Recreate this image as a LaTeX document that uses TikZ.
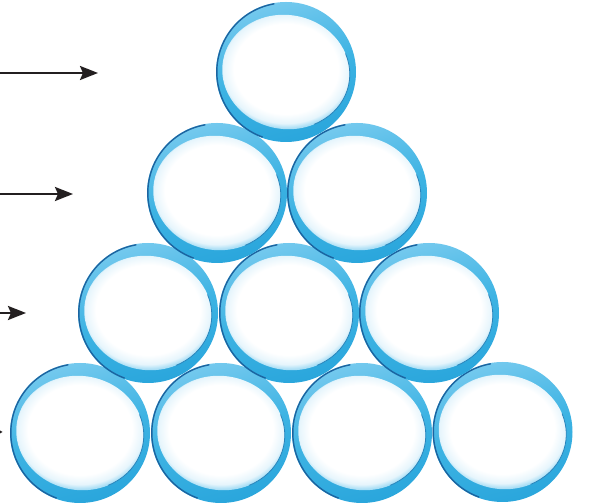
\documentclass[tikz,border=0pt]{standalone}
\usetikzlibrary{arrows.meta}
\definecolor{ringlight}{HTML}{74C9EE}
\definecolor{ringmid}{HTML}{3DB3E3}
\definecolor{ringdeep}{HTML}{2AA6DC}
\definecolor{ringedge}{HTML}{1C64A0}
\definecolor{ringinner}{HTML}{E6F5FC}
\definecolor{ringfade}{HTML}{A9DEF5}
\definecolor{arrowgray}{HTML}{231F20}
\pgfdeclareradialshading{ringin}{\pgfpoint{0bp}{0bp}}{color(0bp)=(white); color(19bp)=(white); color(23bp)=(ringinner); color(25bp)=(ringfade); color(50bp)=(ringfade)}
\tikzset{
  bubblering/.pic={
    \shade[top color=ringlight, bottom color=ringdeep, middle color=ringmid, shading angle=15] (0,0) circle (70pt);
    \shade[shading=ringin, rotate=-10] (0,0) ellipse (64pt and 57pt);
    \draw[ringedge, line width=1.4pt, line cap=round] (100:69.2pt) arc[start angle=100, end angle=250, radius=69.2pt];
    \draw[ringedge!60!ringmid, line width=0.8pt, rotate=-10] (-55:64pt and 57pt) arc[start angle=-55, end angle=30, x radius=64pt, y radius=57pt];
  },
  pointer/.style={draw=arrowgray, line width=2.4pt, -{Stealth[length=18pt,width=14pt,inset=3pt]}}
}
\begin{document}
\begin{tikzpicture}[x=1pt,y=1pt]
\useasboundingbox (0,0) rectangle (590,503);
% circle centres
\coordinate (c1) at (286,431);
\coordinate (c21) at (217,310);
\coordinate (c22) at (357,310);
\coordinate (c31) at (148,190);
\coordinate (c32) at (289,190);
\coordinate (c33) at (429,190);
\coordinate (c41) at (80,70);
\coordinate (c42) at (221,70);
\coordinate (c43) at (362,70);
\coordinate (c44) at (502.5,71);
\foreach \c in {c41,c42,c43,c44,c31,c32,c33,c21,c22,c1}
  \pic at (\c) {bubblering};
% arrows
\coordinate (a1s) at (0,430);   \coordinate (a1e) at (98,430);
\coordinate (a2s) at (0,309);   \coordinate (a2e) at (73,309);
\coordinate (a3s) at (0,190);   \coordinate (a3e) at (26,190);
\draw[pointer] (a1s) -- (a1e);
\draw[pointer] (a2s) -- (a2e);
\draw[pointer] (a3s) -- (a3e);
\coordinate (a4e) at (2.5,71);
\fill[arrowgray] (0,72.5) -- (a4e) -- (0,69.5) -- cycle;
\end{tikzpicture}
\end{document}
